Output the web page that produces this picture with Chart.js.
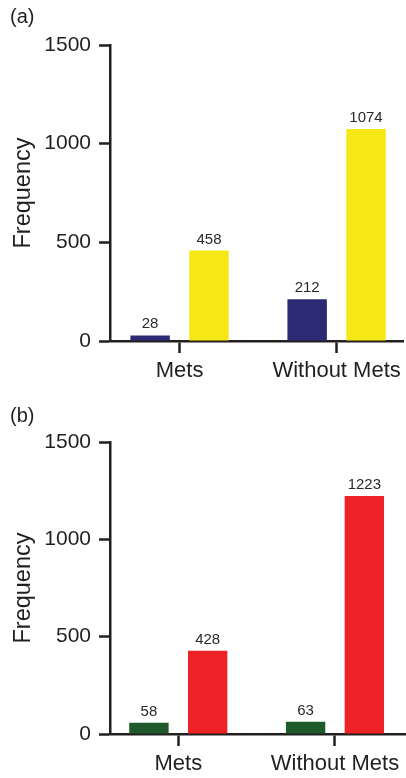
<!DOCTYPE html>
<html>
<head>
<meta charset="utf-8">
<script src="https://cdn.jsdelivr.net/npm/chart.js@4/dist/chart.umd.min.js"></script>
<style>
  html, body { margin: 0; padding: 0; background: #fff; }
  body { width: 406px; height: 778px; position: relative; overflow: hidden;
         font-family: "Liberation Sans", Arial, Helvetica, sans-serif; }
  .panel { position: absolute; left: 0; width: 406px; height: 389px; }
  .panel canvas { display: block; }
  .tag { position: absolute; left: 10px; font-size: 20px; line-height: 1; color: #231f20; }
</style>
</head>
<body>
<div class="panel" style="top:0"><canvas id="chartA" width="406" height="389"></canvas></div>
<div class="panel" style="top:389px"><canvas id="chartB" width="406" height="389"></canvas></div>
<div class="tag" style="top:6px">(a)</div>
<div class="tag" style="top:405px">(b)</div>

<script>
// Categories and tick values shared by both panels
const categories = ['Mets', 'Without Mets'];
const yTicks = [0, 500, 1000, 1500];

// Panel (a)
const aFirst = [28, 212];
const aSecond = [458, 1074];

// Panel (b)
const bFirst = [58, 63];
const bSecond = [428, 1223];

const INK = '#231f20';
Chart.defaults.font.family = '"Liberation Sans", Arial, Helvetica, sans-serif';
Chart.defaults.color = INK;

// Writes each bar's value just above its top
const valueLabels = {
  id: 'valueLabels',
  afterDatasetsDraw(chart) {
    const ctx = chart.ctx;
    ctx.save();
    ctx.font = '15px "Liberation Sans", Arial, sans-serif';
    ctx.fillStyle = '#2a2a2a';
    ctx.textAlign = 'center';
    ctx.textBaseline = 'alphabetic';
    chart.data.datasets.forEach((ds, di) => {
      const meta = chart.getDatasetMeta(di);
      meta.data.forEach((bar, i) => {
        ctx.fillText(String(ds.data[i].y), bar.x, bar.y - 7);
      });
    });
    ctx.restore();
  }
};

function buildChart(id, first, second, colors, xMin, xMax, topPad, xAxisHeight) {
  const toPoints = vals => vals.map((v, i) => ({ x: i, y: v }));
  return new Chart(document.getElementById(id), {
    type: 'bar',
    data: {
      datasets: [
        { label: 'Series 1', data: toPoints(first), backgroundColor: colors[0] },
        { label: 'Series 2', data: toPoints(second), backgroundColor: colors[1] }
      ]
    },
    options: {
      responsive: false,
      animation: false,
      devicePixelRatio: 1,
      categoryPercentage: 0.75,
      barPercentage: 0.67,
      layout: { padding: { top: topPad, right: 1, bottom: 0, left: 0 } },
      plugins: { legend: { display: false }, tooltip: { enabled: false }, title: { display: false } },
      scales: {
        x: {
          type: 'linear',
          min: xMin,
          max: xMax,
          offset: false,
          afterBuildTicks: s => { s.ticks = categories.map((_, i) => ({ value: i })); },
          afterFit: s => { s.height = xAxisHeight; },
          border: { display: true, color: INK, width: 2.5 },
          grid: { display: true, drawOnChartArea: false, drawTicks: true, offset: false,
                  tickLength: 12, tickColor: INK, tickWidth: 2.5, color: INK },
          ticks: { padding: 5, maxRotation: 0, autoSkip: false,
                   font: { size: 22 }, color: INK,
                   callback: v => categories[v] ?? '' }
        },
        y: {
          min: 0,
          max: 1500,
          afterBuildTicks: s => { s.ticks = yTicks.map(v => ({ value: v })); },
          afterFit: s => { s.width = 110; },
          border: { display: true, color: INK, width: 2.5 },
          grid: { display: true, drawOnChartArea: false, drawTicks: true,
                  tickLength: 11, tickColor: INK, tickWidth: 2.5, color: INK },
          ticks: { padding: 8, font: { size: 21 }, color: INK,
                   callback: v => String(v) },
          title: { display: true, text: 'Frequency', font: { size: 23.5 }, color: INK,
                   padding: { top: 9, bottom: 0 } }
        }
      }
    },
    plugins: [valueLabels]
  });
}

buildChart('chartA', aFirst, aSecond, ['#2b2a72', '#f5e815'], -0.443, 1.424, 45, 48);
buildChart('chartB', bFirst, bSecond, ['#1f5a2c', '#ec2227'], -0.436, 1.447, 53, 44);
</script>
</body>
</html>
